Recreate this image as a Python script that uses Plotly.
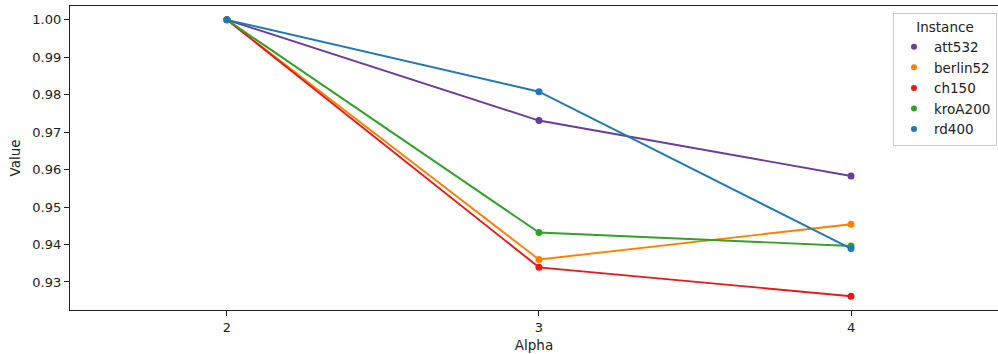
import plotly.graph_objects as go

alpha = [2, 3, 4]
instances = ["att532", "berlin52", "ch150", "kroA200", "rd400"]
att532 = [1.0, 0.9731, 0.9583]
berlin52 = [1.0, 0.9360, 0.9454]
ch150 = [1.0, 0.9339, 0.9262]
kroA200 = [1.0, 0.9432, 0.9396]
rd400 = [1.0, 0.9808, 0.9389]
series = [att532, berlin52, ch150, kroA200, rd400]
colors = ["#6a3d9a", "#ff7f00", "#e31a1c", "#33a02c", "#1f78b4"]
y_ticks = [0.93, 0.94, 0.95, 0.96, 0.97, 0.98, 0.99, 1.00]

font = "DejaVu Sans, Arial, sans-serif"
fig = go.Figure()

for name, vals, col in zip(instances, series, colors):
    fig.add_trace(go.Scatter(
        x=alpha, y=vals, mode="lines+markers", name=name,
        line=dict(color=col, width=1.9),
        marker=dict(color=col, size=7),
        showlegend=False,
    ))

# marker-only legend entries
for name, col in zip(instances, colors):
    fig.add_trace(go.Scatter(
        x=[None], y=[None], mode="markers", name=name,
        marker=dict(color=col, size=6),
    ))

lo = min(min(s) for s in series)
hi = max(max(s) for s in series)
pad = (hi - lo) * 0.05

fig.update_layout(
    width=998, height=354,
    margin=dict(l=70, r=0, t=6, b=44),
    paper_bgcolor="white", plot_bgcolor="white",
    font=dict(family=font, size=13, color="#222"),
    legend=dict(
        title=dict(text="Instance", side="top center", font=dict(size=13.5)),
        x=0.9989, xanchor="right", y=0.977, yanchor="top",
        bordercolor="#cccccc", borderwidth=1, bgcolor="white",
        font=dict(size=13.5), itemwidth=30, tracegroupgap=0,
    ),
    xaxis=dict(
        range=[1.497, 4.471], tickvals=alpha, ticktext=[str(a) for a in alpha],
        showgrid=False, zeroline=False,
        showline=True, linecolor="#222", linewidth=1.2, mirror=True,
        ticks="outside", ticklen=5, tickcolor="#222",
        title=dict(text="Alpha", standoff=6, font=dict(size=13.5)),
    ),
    yaxis=dict(
        range=[lo - pad, hi + pad], tickvals=y_ticks,
        tickformat=".2f",
        showgrid=False, zeroline=False,
        showline=True, linecolor="#222", linewidth=1.2,
        ticks="outside", ticklen=5, tickcolor="#222",
        title=dict(text="Value", standoff=8, font=dict(size=13.5)),
    ),
)

fig.write_html("out.html")
